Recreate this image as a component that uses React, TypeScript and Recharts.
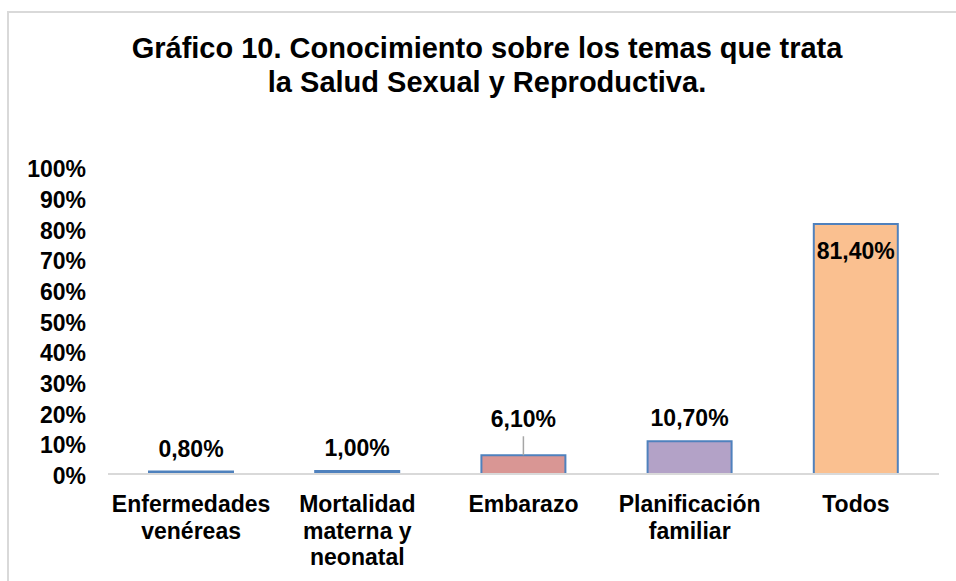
import { BarChart, Bar, XAxis, YAxis, Cell, LabelList } from "recharts";

const categories = [
  "Enfermedades\nvenéreas",
  "Mortalidad\nmaterna y\nneonatal",
  "Embarazo",
  "Planificación\nfamiliar",
  "Todos",
];
const percentages = [0.008, 0.01, 0.061, 0.107, 0.814];
const barColors = ["#4F81BD", "#4F81BD", "#D99694", "#B3A2C7", "#FAC090"];
const yTicks = [0, 0.1, 0.2, 0.3, 0.4, 0.5, 0.6, 0.7, 0.8, 0.9, 1];
const titleLines = [
  "Gráfico 10. Conocimiento sobre los temas que trata",
  "la Salud Sexual y Reproductiva.",
];

const data = categories.map((name, i) => ({ name, value: percentages[i] }));

const FONT = "'Liberation Sans', Arial, sans-serif";

const fmtLabel = (v: number) => (v * 100).toFixed(2).replace(".", ",") + "%";

function CategoryTick(props: any) {
  const { x, y, payload } = props;
  const lines = String(payload.value).split("\n");
  return (
    <text
      x={x}
      y={y + 30}
      textAnchor="middle"
      fill="#000"
      fontFamily={FONT}
      fontWeight="bold"
      fontSize={23}
    >
      {lines.map((l, i) => (
        <tspan key={i} x={x} dy={i === 0 ? 0 : 26.5}>
          {l}
        </tspan>
      ))}
    </text>
  );
}

function ValueLabel(props: any) {
  const { x, y, width, value, index } = props;
  const cx = x + width / 2;
  const common = {
    textAnchor: "middle" as const,
    fill: "#000",
    fontFamily: FONT,
    fontWeight: "bold",
    fontSize: 23,
  };
  if (value > 0.5) {
    return (
      <text x={cx} y={y + 35} {...common}>
        {fmtLabel(value)}
      </text>
    );
  }
  if (categories[index] === "Embarazo") {
    // label pushed up with a leader line, as in the original
    return (
      <g>
        <line x1={cx} x2={cx} y1={y - 19} y2={y} stroke="#A6A6A6" strokeWidth={1.5} />
        <text x={cx} y={y - 28} {...common}>
          {fmtLabel(value)}
        </text>
      </g>
    );
  }
  return (
    <text x={cx} y={y - 15} {...common}>
      {fmtLabel(value)}
    </text>
  );
}

export default function App() {
  return (
    <div
      style={{
        position: "absolute",
        left: 0,
        top: 0,
        width: 956,
        height: 581,
        overflow: "hidden",
        background: "#fff",
      }}
    >
      <div
        style={{
          position: "absolute",
          left: 7,
          top: 11,
          width: 1100,
          height: 800,
          borderLeft: "2px solid #D9D9D9",
          borderTop: "2px solid #D9D9D9",
        }}
      />
      <div
        style={{
          position: "absolute",
          left: -13,
          top: 31,
          width: 1000,
          textAlign: "center",
          fontFamily: FONT,
          fontWeight: "bold",
          fontSize: 29,
          lineHeight: "34px",
          color: "#000",
          whiteSpace: "nowrap",
        }}
      >
        {titleLines.map((t) => (
          <div key={t}>{t}</div>
        ))}
      </div>
      <div style={{ position: "absolute", left: 0, top: 0 }}>
        <BarChart
          width={956}
          height={581}
          data={data}
          margin={{ top: 167, right: 17, bottom: 7, left: 8 }}
        >
          <XAxis
            dataKey="name"
            height={100}
            interval={0}
            tickLine={false}
            axisLine={{ stroke: "#D9D9D9", strokeWidth: 2 }}
            tick={<CategoryTick />}
          />
          <YAxis
            width={100}
            domain={[0, 1]}
            ticks={yTicks}
            interval={0}
            axisLine={false}
            tickLine={false}
            tickSize={6}
            tickMargin={16}
            tickFormatter={(v: number) => `${Math.round(v * 100)}%`}
            tick={{ fill: "#000", fontFamily: FONT, fontWeight: "bold", fontSize: 23, dy: 2 }}
          />
          <Bar
            dataKey="value"
            barSize={84}
            stroke="#4F81BD"
            strokeWidth={2}
            isAnimationActive={false}
          >
            {data.map((d, i) => (
              <Cell key={d.name} fill={barColors[i]} />
            ))}
            <LabelList dataKey="value" content={<ValueLabel />} />
          </Bar>
        </BarChart>
      </div>
    </div>
  );
}
